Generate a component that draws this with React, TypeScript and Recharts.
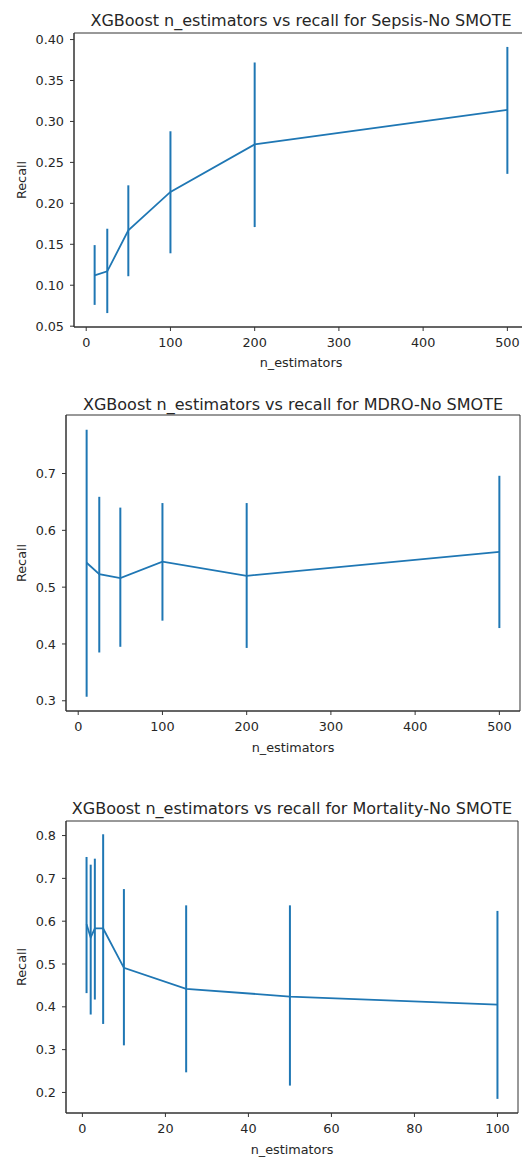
import { ErrorBar, Line, LineChart, ReferenceArea, XAxis, YAxis } from "recharts";

// Sepsis
const sepsisEstimators = [10, 25, 50, 100, 200, 500];
const sepsisRecall = [0.112, 0.117, 0.167, 0.214, 0.272, 0.314];
const sepsisLow = [0.076, 0.066, 0.111, 0.139, 0.171, 0.236];
const sepsisHigh = [0.149, 0.169, 0.222, 0.288, 0.372, 0.391];

// MDRO
const mdroEstimators = [10, 25, 50, 100, 200, 500];
const mdroRecall = [0.543, 0.523, 0.516, 0.545, 0.52, 0.562];
const mdroLow = [0.307, 0.385, 0.395, 0.441, 0.393, 0.428];
const mdroHigh = [0.777, 0.659, 0.64, 0.648, 0.648, 0.696];

// Mortality
const mortalityEstimators = [1, 2, 3, 5, 10, 25, 50, 100];
const mortalityRecall = [0.593, 0.562, 0.583, 0.583, 0.491, 0.442, 0.424, 0.405];
const mortalityLow = [0.432, 0.382, 0.417, 0.36, 0.31, 0.247, 0.216, 0.185];
const mortalityHigh = [0.75, 0.732, 0.746, 0.803, 0.675, 0.637, 0.637, 0.624];

const wideXTicks = [0, 100, 200, 300, 400, 500];
const smallXTicks = [0, 20, 40, 60, 80, 100];
const sepsisYTicks = [0.05, 0.1, 0.15, 0.2, 0.25, 0.3, 0.35, 0.4];
const mdroYTicks = [0.3, 0.4, 0.5, 0.6, 0.7];
const mortalityYTicks = [0.2, 0.3, 0.4, 0.5, 0.6, 0.7, 0.8];

const blue = "#1f77b4";
const ink = "#262626";
const frame = { stroke: "#333", strokeWidth: 1 };
const tickFont = { fontSize: 12.8, fill: ink, fontFamily: "DejaVu Sans" };

type PanelProps = {
  top: number;
  width: number;
  height: number;
  plot: { left: number; top: number; right: number; bottom: number };
  title: string;
  titleGap: number;
  labelGap: number;
  xs: number[];
  mean: number[];
  low: number[];
  high: number[];
  xDomain: [number, number];
  yDomain: [number, number];
  xTicks: number[];
  yTicks: number[];
  digits: number;
};

function Panel(p: PanelProps) {
  const data = p.xs.map((n, i) => ({
    n,
    recall: p.mean[i],
    err: [p.mean[i] - p.low[i], p.high[i] - p.mean[i]],
  }));
  const axisH = 44;

  return (
    <div style={{ position: "absolute", left: 0, top: p.top, width: p.width, height: p.height }}>
      <LineChart
        width={p.width}
        height={p.height}
        data={data}
        margin={{
          top: p.plot.top,
          right: p.width - p.plot.right,
          bottom: p.height - p.plot.bottom - axisH,
          left: 0,
        }}
      >
        <XAxis
          dataKey="n"
          type="number"
          domain={p.xDomain}
          ticks={p.xTicks}
          allowDataOverflow
          height={axisH}
          tickSize={4}
          tickMargin={7}
          tick={tickFont}
          tickLine={frame}
          axisLine={frame}
          label={{ value: "n_estimators", position: "insideBottom", offset: p.labelGap, style: tickFont }}
        />
        <YAxis
          type="number"
          domain={p.yDomain}
          ticks={p.yTicks}
          allowDataOverflow
          width={p.plot.left}
          tickSize={4}
          tickMargin={6}
          tick={tickFont}
          tickLine={frame}
          axisLine={frame}
          tickFormatter={(v: number) => v.toFixed(p.digits)}
          label={{
            value: "Recall",
            angle: -90,
            position: "insideLeft",
            offset: 21,
            style: { ...tickFont, textAnchor: "middle" },
          }}
        />
        <ReferenceArea
          x1={p.xDomain[0]}
          x2={p.xDomain[1]}
          y1={p.yDomain[0]}
          y2={p.yDomain[1]}
          fill="none"
          fillOpacity={0}
          stroke="#333"
          strokeWidth={1}
          ifOverflow="visible"
          label={{
            value: p.title,
            position: "top",
            offset: p.titleGap,
            style: { fontSize: 16, fill: ink, fontFamily: "DejaVu Sans" },
          }}
        />
        <Line
          type="linear"
          dataKey="recall"
          stroke={blue}
          strokeWidth={1.8}
          dot={false}
          activeDot={false}
          isAnimationActive={false}
        >
          <ErrorBar dataKey="err" direction="y" width={0} stroke={blue} strokeWidth={2} />
        </Line>
      </LineChart>
    </div>
  );
}

export default function App() {
  return (
    <div
      style={{
        position: "absolute",
        left: 0,
        top: 0,
        width: 522,
        height: 1160,
        overflow: "hidden",
        background: "#fff",
        fontFamily: "DejaVu Sans",
      }}
    >
      <Panel
        top={0}
        width={540}
        height={375}
        plot={{ left: 74, top: 33, right: 528, bottom: 327 }}
        title="XGBoost n_estimators vs recall for Sepsis-No SMOTE"
        titleGap={7}
        labelGap={4}
        xs={sepsisEstimators}
        mean={sepsisRecall}
        low={sepsisLow}
        high={sepsisHigh}
        xDomain={[-14.5, 524.5]}
        yDomain={[0.049, 0.408]}
        xTicks={wideXTicks}
        yTicks={sepsisYTicks}
        digits={2}
      />
      <Panel
        top={380}
        width={522}
        height={385}
        plot={{ left: 66, top: 35, right: 520, bottom: 331 }}
        title="XGBoost n_estimators vs recall for MDRO-No SMOTE"
        titleGap={5}
        labelGap={3}
        xs={mdroEstimators}
        mean={mdroRecall}
        low={mdroLow}
        high={mdroHigh}
        xDomain={[-14.5, 524.5]}
        yDomain={[0.282, 0.803]}
        xTicks={wideXTicks}
        yTicks={mdroYTicks}
        digits={1}
      />
      <Panel
        top={770}
        width={522}
        height={390}
        plot={{ left: 66, top: 51, right: 518, bottom: 343 }}
        title="XGBoost n_estimators vs recall for Mortality-No SMOTE"
        titleGap={7}
        labelGap={3}
        xs={mortalityEstimators}
        mean={mortalityRecall}
        low={mortalityLow}
        high={mortalityHigh}
        xDomain={[-3.95, 104.95]}
        yDomain={[0.152, 0.834]}
        xTicks={smallXTicks}
        yTicks={mortalityYTicks}
        digits={1}
      />
    </div>
  );
}
